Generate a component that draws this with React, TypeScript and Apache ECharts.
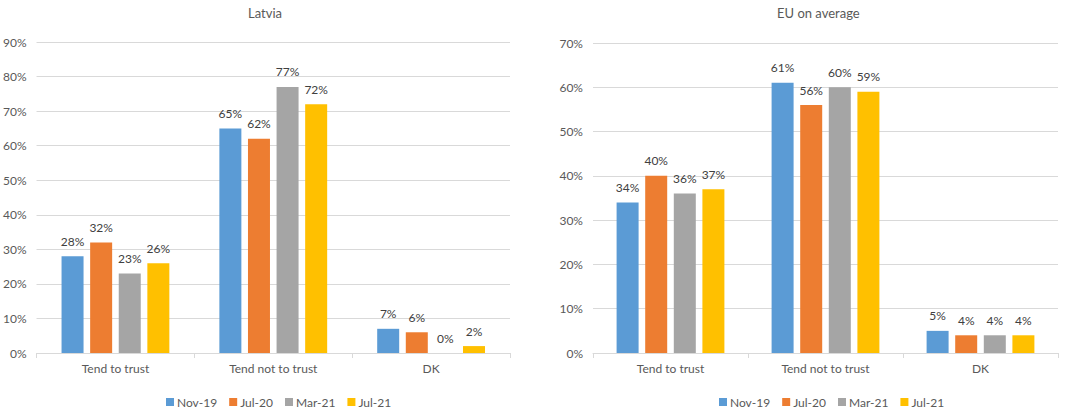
import React, { useEffect, useRef } from "react";
import * as echarts from "echarts";

const categories = ["Tend to trust", "Tend not to trust", "DK"];
const seriesNames = ["Nov-19", "Jul-20", "Mar-21", "Jul-21"];
const latviaNov19 = [28, 65, 7];
const latviaJul20 = [32, 62, 6];
const latviaMar21 = [23, 77, 0];
const latviaJul21 = [26, 72, 2];
const euNov19 = [34, 61, 5];
const euJul20 = [40, 56, 4];
const euMar21 = [36, 60, 4];
const euJul21 = [37, 59, 4];
const latviaTicks = { min: 0, max: 90, interval: 10 };
const euTicks = { min: 0, max: 70, interval: 10 };

const colors = ["#5B9BD5", "#ED7D31", "#A5A5A5", "#FFC000"];
const FONT = "Lato";
const TXT = "#595959";
const GRIDC = "#D9D9D9";

export default function App() {
  const ref = useRef<HTMLDivElement>(null);
  useEffect(() => {
    document.body.style.margin = "0";
    if (!ref.current) return;
    const chart = echarts.init(ref.current, undefined, { renderer: "svg" });
    const latvia = [latviaNov19, latviaJul20, latviaMar21, latviaJul21];
    const eu = [euNov19, euJul20, euMar21, euJul21];
    const mkSeries = (data: number[][], idx: number) =>
      data.map((d, i) => ({
        name: seriesNames[i],
        type: "bar",
        xAxisIndex: idx,
        yAxisIndex: idx,
        data: d,
        barWidth: 22,
        barGap: "30%",
        itemStyle: { color: colors[i] },
        label: {
          show: true,
          position: "top",
          distance: 9,
          formatter: "{c}%",
          color: "#404040",
          fontFamily: FONT,
          fontSize: 12,
        },
      }));
    const xAxis = (gridIndex: number) => ({
      type: "category",
      gridIndex,
      data: categories,
      axisLine: { lineStyle: { color: GRIDC } },
      axisTick: { show: true, length: 5, lineStyle: { color: GRIDC } },
      axisLabel: { color: TXT, fontFamily: FONT, fontSize: 12, margin: 9 },
    });
    const yAxis = (gridIndex: number, t: { min: number; max: number; interval: number }) => ({
      type: "value",
      gridIndex,
      min: t.min,
      max: t.max,
      interval: t.interval,
      axisLine: { show: false },
      axisTick: { show: false },
      splitLine: { lineStyle: { color: GRIDC } },
      axisLabel: { formatter: "{value}%", color: TXT, fontFamily: FONT, fontSize: 12, margin: 10 },
    });
    const legend = (left: number) => ({
      data: seriesNames,
      left,
      top: 396,
      padding: 0,
      icon: "rect",
      itemWidth: 8,
      itemHeight: 8,
      itemGap: 12,
      textStyle: { color: TXT, fontFamily: FONT, fontSize: 12, padding: [0, 0, 0, -2] },
    });
    chart.setOption({
      animation: false,
      title: [
        { text: "Latvia", left: 243, top: 1, textStyle: { color: TXT, fontFamily: FONT, fontSize: 13, fontWeight: "normal" } },
        { text: "EU on average", left: 772, top: 1, textStyle: { color: TXT, fontFamily: FONT, fontSize: 13, fontWeight: "normal" } },
      ],
      legend: [legend(166), legend(719)],
      grid: [
        { left: 35, top: 42, width: 475, height: 311, containLabel: false },
        { left: 593, top: 43, width: 465, height: 310, containLabel: false },
      ],
      xAxis: [xAxis(0), xAxis(1)],
      yAxis: [yAxis(0, latviaTicks), yAxis(1, euTicks)],
      series: [...mkSeries(latvia, 0), ...mkSeries(eu, 1)],
    });
    return () => chart.dispose();
  }, []);
  return <div ref={ref} style={{ width: 1084, height: 410, background: "#fff" }} />;
}
